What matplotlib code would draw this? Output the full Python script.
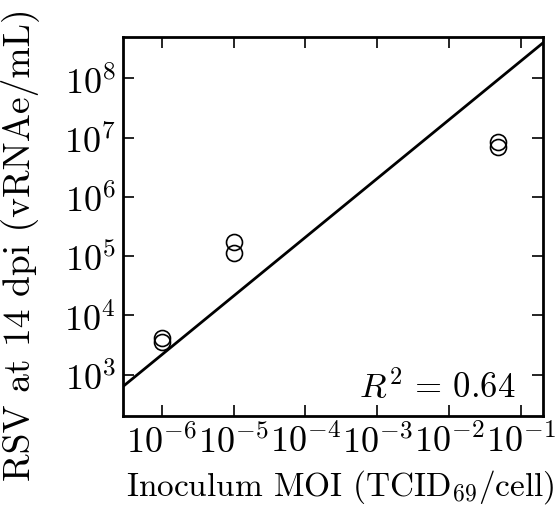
import numpy as np
import matplotlib
matplotlib.use('Agg')
import matplotlib.pyplot as plt

plt.rcParams['font.family'] = 'serif'
plt.rcParams['font.serif'] = ['cmr10']
plt.rcParams['mathtext.fontset'] = 'cm'
plt.rcParams['axes.formatter.use_mathtext'] = True
plt.rcParams['axes.unicode_minus'] = False

# datos
moi = [1e-6, 1e-6, 1e-5, 1e-5, 0.048, 0.048]
rsv = [4.2e3, 3.5e3, 1.7e5, 1.12e5, 8.5e6, 6.9e6]

# recta de ajuste en log-log
fit_slope = 0.993
fit_intercept = 9.29
r2 = 0.64

fig = plt.figure(figsize=(5.59, 5.06), dpi=100)
ax = fig.add_axes([0.22, 0.176, 0.751, 0.749])

xlim = (2.9e-7, 0.2)
ylim = (2e2, 5e8)

xf = np.logspace(np.log10(xlim[0]), np.log10(xlim[1]), 50)
yf = 10 ** (fit_slope * np.log10(xf) + fit_intercept)
ax.plot(xf, yf, '-', color='black', linewidth=2)

ax.plot(moi, rsv, 'o', markersize=11.5, markerfacecolor='none',
        markeredgecolor='black', markeredgewidth=1.2)

ax.set_xscale('log')
ax.set_yscale('log')
ax.set_xlim(xlim)
ax.set_ylim(ylim)

ax.set_xticks([1e-6, 1e-5, 1e-4, 1e-3, 1e-2, 1e-1])
ax.set_yticks([1e3, 1e4, 1e5, 1e6, 1e7, 1e8])

for s in ax.spines.values():
    s.set_linewidth(2)

ax.tick_params(which='both', direction='in', top=True, right=True, labelsize=26)
ax.tick_params(which='major', length=8, width=1.2, pad=5)
ax.tick_params(which='minor', length=4, width=0.8)

ax.set_xlabel(r'Inoculum MOI (TCID$_{69}$/cell)', fontsize=24)
ax.set_ylabel('RSV at 14 dpi (vRNAe/mL)', fontsize=27)
ax.xaxis.set_label_coords(0.517, -0.135)
ax.yaxis.set_label_coords(-0.2, 0.454)

ax.text(0.935, 0.05, r'$R^2\,=\,%.2f$' % r2, transform=ax.transAxes,
        ha='right', va='baseline', fontsize=25)

fig.savefig('out.png', dpi=100)
